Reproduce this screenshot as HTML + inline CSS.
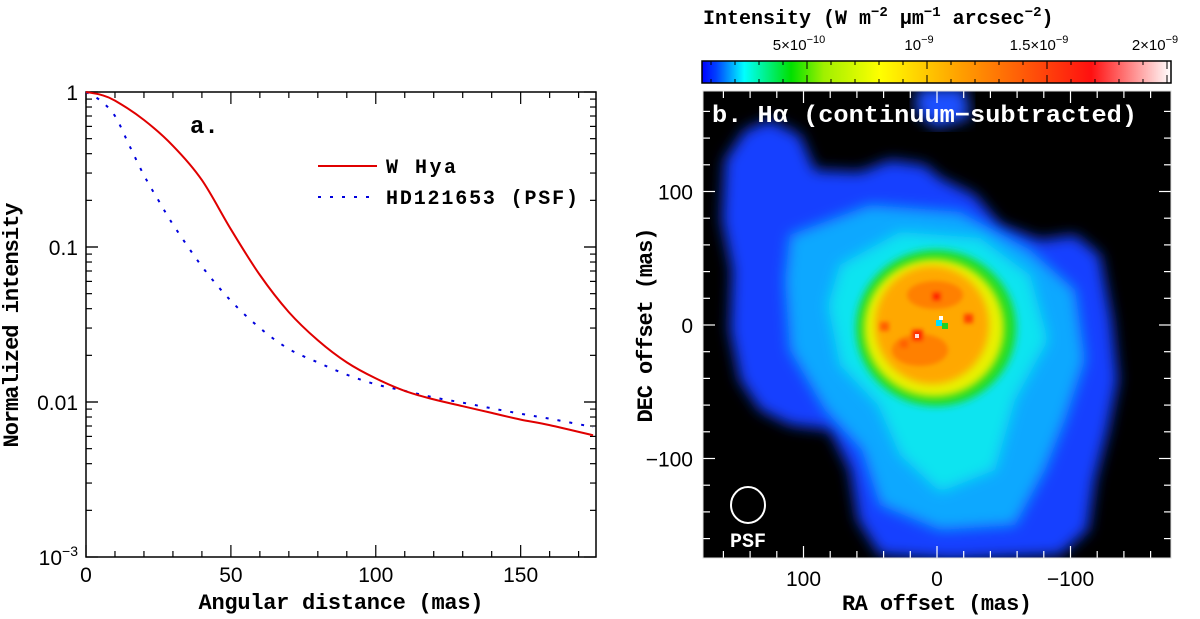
<!DOCTYPE html>
<html><head><meta charset="utf-8">
<style>
html,body{margin:0;padding:0;background:#fff;}
svg{display:block;font-family:"Liberation Sans",sans-serif;}
.lab{font-family:"Liberation Mono",monospace;font-weight:bold;}
</style></head>
<body>
<svg id="fig" width="1200" height="619" viewBox="0 0 1200 619">
<defs>
<linearGradient id="cmap" x1="0" x2="1" y1="0" y2="0">
<stop offset="0" stop-color="#0000ff"/>
<stop offset="0.03" stop-color="#0040ff"/>
<stop offset="0.09" stop-color="#00ffff"/>
<stop offset="0.19" stop-color="#00e000"/>
<stop offset="0.26" stop-color="#a0f000"/>
<stop offset="0.38" stop-color="#ffff00"/>
<stop offset="0.55" stop-color="#ffa000"/>
<stop offset="0.83" stop-color="#ff1010"/>
<stop offset="1" stop-color="#ffffff"/>
</linearGradient>
<filter id="bl8"><feGaussianBlur stdDeviation="7"/></filter>
<filter id="bl4"><feGaussianBlur stdDeviation="4"/></filter>
<filter id="bl2"><feGaussianBlur stdDeviation="2"/></filter>
<clipPath id="imgclip"><rect x="703" y="91" width="468" height="467"/></clipPath>
</defs>
<g id="left"></g>
<g id="right">
<rect x="703" y="91" width="468" height="467" fill="#000"/>
<g clip-path="url(#imgclip)">
<path filter="url(#bl8)" fill="#1840ff" d="M725,160 L745,130 L770,120 L800,135 L815,170 L860,172 L890,160 L925,165 L940,178 L975,195 L1000,225 L1040,240 L1075,235 L1100,255 L1112,320 L1118,380 L1108,430 L1095,480 L1088,530 L1060,555 L950,560 L880,555 L858,520 L850,470 L830,430 L790,425 L760,410 L740,380 L730,330 L732,270 L722,220 Z"/>
<path filter="url(#bl8)" fill="#1a50ff" d="M918,88 L965,88 L970,118 L935,128 L915,110 Z"/>
<path filter="url(#bl8)" fill="#10a8ff" d="M790,235 L870,205 L960,212 L1030,250 L1075,290 L1085,360 L1065,420 L1045,470 L1015,525 L940,530 L880,505 L862,450 L825,410 L790,350 L785,280 Z"/>
<path filter="url(#bl8)" fill="#10e4f0" d="M840,265 L900,232 L980,238 L1030,275 L1048,340 L1015,400 L995,470 L940,492 L900,455 L878,405 L840,365 L828,305 Z"/>
<ellipse filter="url(#bl4)" cx="936" cy="328" rx="80" ry="78" fill="#20dc20"/>
<ellipse filter="url(#bl4)" cx="934" cy="328" rx="70" ry="69" fill="#e8f000"/>
<ellipse filter="url(#bl4)" cx="932" cy="325" rx="57" ry="59" fill="#ffa800"/>
<g filter="url(#bl2)">
<ellipse cx="935" cy="295" rx="28" ry="14" fill="#ff8000"/>
<ellipse cx="920" cy="350" rx="28" ry="16" fill="#ff8000"/>
<rect x="932" y="292" width="9" height="9" fill="#ff2000"/>
<rect x="912" y="330" width="11" height="11" fill="#ff2000"/>
<rect x="964" y="314" width="9" height="9" fill="#ff4000"/>
<rect x="880" y="322" width="9" height="9" fill="#ff6000"/>
<rect x="900" y="340" width="8" height="8" fill="#ff6000"/>
</g>
<rect x="936" y="320" width="6" height="6" fill="#00e0ff"/>
<rect x="942" y="323" width="6" height="6" fill="#20d020"/>
<rect x="939" y="316" width="4" height="4" fill="#fff"/>
<rect x="915" y="334" width="4" height="4" fill="#ffe0e0"/>
</g>
<ellipse cx="748" cy="505" rx="17" ry="18" fill="none" stroke="#fff" stroke-width="2"/>
<text x="748" y="547" fill="#fff" font-size="20" text-anchor="middle" class="lab">PSF</text>
<text x="712" y="122" fill="#fff" font-size="24" class="lab" textLength="425" lengthAdjust="spacingAndGlyphs">b. Hα (continuum−subtracted)</text>
<rect x="702" y="61" width="469" height="22" fill="url(#cmap)" stroke="#000" stroke-width="1.5"/>
<text x="703" y="24" font-size="20" class="lab">Intensity (W m<tspan dy="-8" font-size="14">−2</tspan><tspan dy="8"> μm</tspan><tspan dy="-8" font-size="14">−1</tspan><tspan dy="8"> arcsec</tspan><tspan dy="-8" font-size="14">−2</tspan><tspan dy="8">)</tspan></text>
</g>
<g id="rightax"></g>
</svg>
<script>
// ---------- Left panel data ----------
const distW = [0,5,10,20,30,40,50,60,70,80,90,100,110,120,130,140,150,160,175];
const valW  = [1,0.96,0.88,0.66,0.45,0.27,0.13,0.066,0.038,0.025,0.018,0.0142,0.0118,0.0104,0.0094,0.0085,0.0077,0.0071,0.0061];
const distP = [0,5,10,15,20,25,30,40,50,60,70,80,90,100,110,120,130,140,150,160,175];
const valP  = [1,0.88,0.7,0.45,0.29,0.2,0.14,0.075,0.045,0.03,0.022,0.018,0.015,0.013,0.0118,0.0107,0.0099,0.0091,0.0084,0.0078,0.0069];
const xTicks = [0,50,100,150];
const yTickLabels = ["1","0.1","0.01","10⁻³"];
const yTickVals = [1,0.1,0.01,0.001];
// ---------- Right panel ticks ----------
const raTicks = [100,0,-100];
const decTicks = [100,0,-100];
const cbTickVals = [5e-10,1e-9,1.5e-9,2e-9];
const cbTickLabels = [["5×10","−10"],["10","−9"],["1.5×10","−9"],["2×10","−9"]];

const NS="http://www.w3.org/2000/svg";
function mk(tag,attrs,parent){const e=document.createElementNS(NS,tag);for(const k in attrs)e.setAttribute(k,attrs[k]);parent.appendChild(e);return e;}
const L=document.getElementById('left'), R=document.getElementById('rightax');
const X0=86,X1=596,Y0=92,Y1=557;
const xs=v=>X0+(v/176)*(X1-X0);
const ys=v=>Y0+(-Math.log10(v))/3*(Y1-Y0);

let fr=mk('rect',{x:X0,y:Y0,width:X1-X0,height:Y1-Y0,fill:'none',stroke:'#000','stroke-width':1.5},L);


for(let v=0;v<=170;v+=10){const maj=v%50===0;const len=maj?12:6;
 mk('line',{x1:xs(v),x2:xs(v),y1:Y1,y2:Y1-len,stroke:'#000','stroke-width':1.2},L);
 mk('line',{x1:xs(v),x2:xs(v),y1:Y0,y2:Y0+len,stroke:'#000','stroke-width':1.2},L);}
xTicks.forEach(v=>{const t=mk('text',{x:xs(v),y:582,'font-size':21,'text-anchor':'middle'},L);t.textContent=v;
 
 });
for(let d=0;d<3;d++){for(let m=1;m<=10;m++){const v=Math.pow(10,-d-1)*m;const maj=(m===1||m===10);const len=maj?12:6;
 mk('line',{x1:X0,x2:X0+len,y1:ys(v),y2:ys(v),stroke:'#000','stroke-width':1.2},L);
 mk('line',{x1:X1,x2:X1-len,y1:ys(v),y2:ys(v),stroke:'#000','stroke-width':1.2},L);}}
yTickVals.forEach((v,i)=>{const t=mk('text',{x:X0-8,y:ys(v)+8,'font-size':21,'text-anchor':'end'},L);
 if(i===3){t.textContent='10';const s=mk('tspan',{dy:-9,'font-size':14},t);s.textContent='−3';}else t.textContent=yTickLabels[i];
 
 });
let xl=mk('text',{x:341,y:609,'font-size':22,'text-anchor':'middle',class:'lab',textLength:285},L);xl.textContent='Angular distance (mas)';


let yl=mk('text',{x:0,y:0,'font-size':22,'text-anchor':'middle',class:'lab',textLength:245,transform:'translate(18,325) rotate(-90)'},L);yl.textContent='Normalized intensity';


let pa=mk('text',{x:190,y:133,'font-size':24,class:'lab'},L);pa.textContent='a.';


function path(xsA,vs){const P=xsA.map((x,i)=>[xs(x),ys(vs[i])]);let d='M'+P[0][0].toFixed(1)+','+P[0][1].toFixed(1);
 for(let i=0;i<P.length-1;i++){const p0=P[Math.max(0,i-1)],p1=P[i],p2=P[i+1],p3=P[Math.min(P.length-1,i+2)];
  const c1=[p1[0]+(p2[0]-p0[0])/6,p1[1]+(p2[1]-p0[1])/6],c2=[p2[0]-(p3[0]-p1[0])/6,p2[1]-(p3[1]-p1[1])/6];
  d+=' C'+c1.map(n=>n.toFixed(1)).join(',')+' '+c2.map(n=>n.toFixed(1)).join(',')+' '+p2.map(n=>n.toFixed(1)).join(',');}
 return d;}
let pp=mk('path',{d:path(distP,valP),fill:'none',stroke:'#0000dd','stroke-width':2,'stroke-dasharray':'3,9'},L);


let pw=mk('path',{d:path(distW,valW),fill:'none',stroke:'#e00000','stroke-width':2},L);


let l1=mk('line',{x1:318,x2:377,y1:166,y2:166,stroke:'#e00000','stroke-width':2},L);


let t1=mk('text',{x:386,y:173,'font-size':20,class:'lab',textLength:70},L);t1.textContent='W Hya';


let l2=mk('line',{x1:318,x2:377,y1:197,y2:197,stroke:'#0000dd','stroke-width':2,'stroke-dasharray':'3,9'},L);


let t2=mk('text',{x:386,y:204,'font-size':20,class:'lab',textLength:192},L);t2.textContent='HD121653 (PSF)';



// ---------- Right axes ----------
const RX0=703,RX1=1171,RY0=91,RY1=558;
const rx=v=>937-(v)*1.335;
const ry=v=>325-(v)*1.335;
for(let v=-160;v<=160;v+=20){const maj=v%100===0;const len=maj?12:7;
 mk('line',{x1:rx(v),x2:rx(v),y1:RY1,y2:RY1-len,stroke:'#fff','stroke-width':1.2},R);
 mk('line',{x1:rx(v),x2:rx(v),y1:RY0,y2:RY0+len,stroke:'#fff','stroke-width':1.2},R);
 mk('line',{x1:RX0,x2:RX0+len,y1:ry(v),y2:ry(v),stroke:'#fff','stroke-width':1.2},R);
 mk('line',{x1:RX1,x2:RX1-len,y1:ry(v),y2:ry(v),stroke:'#fff','stroke-width':1.2},R);}
let rf=mk('rect',{x:RX0,y:RY0,width:RX1-RX0,height:RY1-RY0,fill:'none',stroke:'#ddd','stroke-width':1},R);


raTicks.forEach(v=>{const t=mk('text',{x:rx(v),y:586,'font-size':21,'text-anchor':'middle'},R);t.textContent=v<0?'−'+(-v):v;
 
 });
decTicks.forEach(v=>{const t=mk('text',{x:RX0-10,y:ry(v)+8,'font-size':21,'text-anchor':'end'},R);t.textContent=v<0?'−'+(-v):v;
 
 });
let rxl=mk('text',{x:937,y:610,'font-size':22,'text-anchor':'middle',class:'lab',textLength:190},R);rxl.textContent='RA offset (mas)';


let ryl=mk('text',{x:0,y:0,'font-size':22,'text-anchor':'middle',class:'lab',textLength:195,transform:'translate(652,325) rotate(-90)'},R);ryl.textContent='DEC offset (mas)';


const cx=v=>687+v/5e-10*120;
for(let v=1e-10;v<=2.05e-9;v+=1e-10){const maj=Math.abs((v/5e-10)-Math.round(v/5e-10))<1e-6;const len=maj?8:4;
 if(cx(v)<703||cx(v)>1170)continue;
 mk('line',{x1:cx(v),x2:cx(v),y1:61,y2:61+len,stroke:'#000','stroke-width':1},R);
 mk('line',{x1:cx(v),x2:cx(v),y1:83,y2:83-len,stroke:'#000','stroke-width':1},R);}
cbTickVals.forEach((v,i)=>{const t=mk('text',{x:cx(v)-(i===3?12:8),y:50,'font-size':15,'text-anchor':'middle'},R);
 t.textContent=cbTickLabels[i][0];const s=mk('tspan',{dy:-7,'font-size':11},t);s.textContent=cbTickLabels[i][1];
 
 });
</script>
</body></html>
